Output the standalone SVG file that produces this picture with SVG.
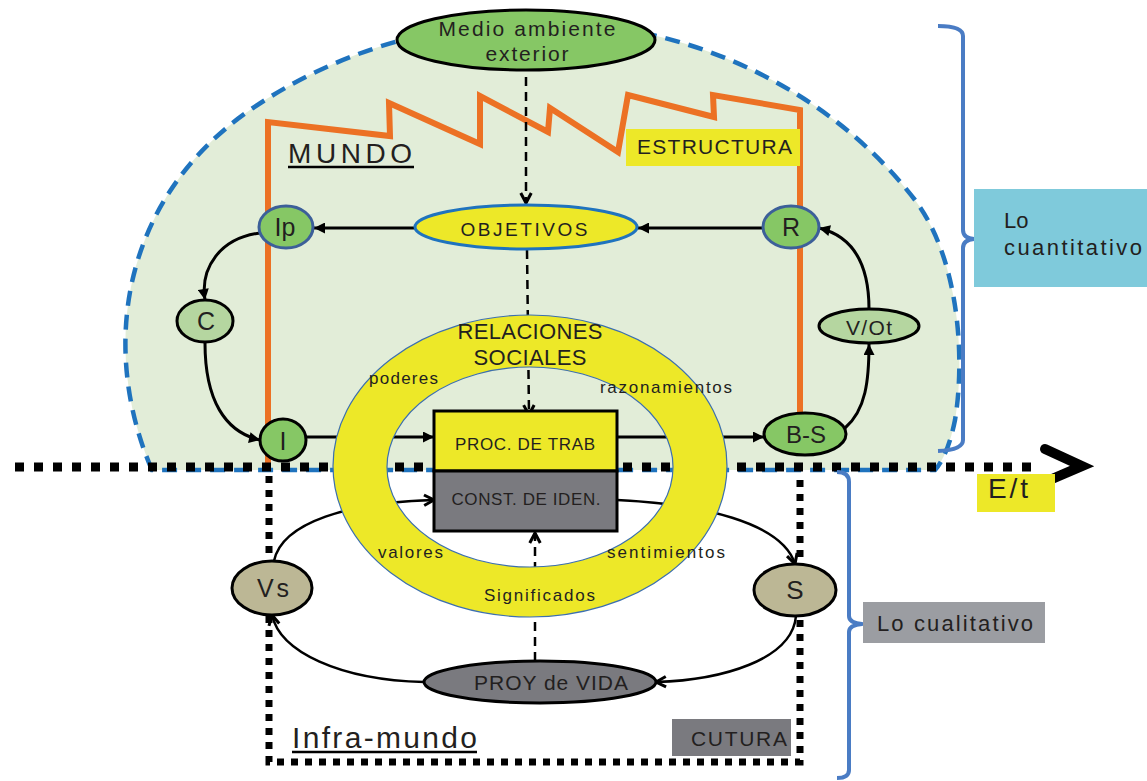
<svg xmlns="http://www.w3.org/2000/svg" width="1147" height="781" viewBox="0 0 1147 781">
<style>
text{font-family:"Liberation Sans",Arial,sans-serif;fill:#231f20}
.c{text-anchor:middle}
.ln{fill:none;stroke:#000;stroke-width:3}
.lt{fill:none;stroke:#000;stroke-width:2.5}
.dash{fill:none;stroke:#000;stroke-width:2.5;stroke-dasharray:9 6}
.g{fill:#86c765;stroke:#000;stroke-width:3}
.gb{fill:#86c765;stroke:#3c5f99;stroke-width:3}
.lg{fill:#b5d6a0;stroke:#000;stroke-width:3}
.kh{fill:#bcb795;stroke:#000;stroke-width:3}
.gr{fill:#7a7a7f;stroke:#000;stroke-width:3}
.br{fill:none;stroke:#4a7cc4;stroke-width:4;stroke-linejoin:round}
.dot{fill:none;stroke:#000}
</style>
<defs>
<marker id="fa" viewBox="0 0 10 10" refX="10" refY="5" markerWidth="13" markerHeight="11" markerUnits="userSpaceOnUse" orient="auto"><path d="M0,0 L10,5 L0,10 z" fill="#000"/></marker>
<marker id="oa" viewBox="0 0 12 12" refX="10.5" refY="6" markerWidth="14" markerHeight="14" markerUnits="userSpaceOnUse" orient="auto"><path d="M2,1.5 L10.5,6 L2,10.5" fill="none" stroke="#000" stroke-width="2.6"/></marker>
</defs>

<g id="dome">
<path d="M152,470 C100,350 120,200 250,110 C330,55 430,22 540,22 C690,22 830,90 915,200 C960,260 965,360 955,420 Q948,455 935,470 Z" fill="#e2edd8" stroke="#1f73be" stroke-width="4.5" stroke-dasharray="15 9"/>
</g>

<g id="estructura-line">
<path d="M268,468 L268,122 L390,136 L389,103 L480,144 L480,96 L548,132 L550,108 L618,152 L628,95 L714,117 L713,95 L800,110 L800,430" fill="none" stroke="#ec7124" stroke-width="6" stroke-linejoin="miter"/>
</g>

<g id="dotted-lines">
<path class="dot" d="M15,467 L1040,467" stroke-width="9" stroke-dasharray="9 10"/>
<path d="M1045,449 L1082,466 L1045,482" fill="none" stroke="#000" stroke-width="10" stroke-linecap="round" stroke-linejoin="miter"/>
<path class="dot" d="M269,476 L269,762 L800,762 L800,476" stroke-width="7" stroke-dasharray="7 7"/>
</g>

<g id="connectors">
<path class="dash" d="M526,62 L526,203" marker-end="url(#oa)"/>
<path class="dash" d="M527,250 L529,415" marker-end="url(#oa)"/>
<path class="dash" d="M535,661 L535,533" marker-end="url(#oa)"/>
<path class="ln" d="M415,228 L314,228" marker-end="url(#fa)"/>
<path class="ln" d="M763,228 L638,228" marker-end="url(#fa)"/>
<path class="ln" d="M260,233 C220,238 200,268 205,300" marker-end="url(#fa)"/>
<path class="ln" d="M205,343 C205,400 225,432 260,440" marker-end="url(#fa)"/>
<path class="ln" d="M306,437 L434,437" marker-end="url(#fa)"/>
<path class="ln" d="M617,437 L764,437" marker-end="url(#fa)"/>
<path class="ln" d="M845,428 C866,410 869,380 869,344" marker-end="url(#fa)"/>
<path class="ln" d="M869,309 C869,262 852,236 819,228" marker-end="url(#fa)"/>
<path class="lt" d="M274,561 C282,522 350,502 434,500" marker-end="url(#oa)"/>
<path class="lt" d="M617,500 C700,504 782,522 795,564" marker-end="url(#oa)"/>
<path class="lt" d="M796,616 C792,660 722,680 656,682" marker-end="url(#oa)"/>
<path class="lt" d="M424,682 C340,680 280,652 272,615" marker-end="url(#oa)"/>
</g>

<g id="relaciones-sociales">
<path d="M333,466 A197,151 0 1,0 727,466 A197,151 0 1,0 333,466 Z M387,467 A143,100 0 1,0 673,467 A143,100 0 1,0 387,467 Z" fill="#ede828" fill-rule="evenodd" stroke="#3c6fb0" stroke-width="1.2"/>
<text class="c" x="530" y="339" font-size="22" textLength="145" lengthAdjust="spacing">RELACIONES</text>
<text class="c" x="530" y="365" font-size="22" textLength="113" lengthAdjust="spacing">SOCIALES</text>
<text x="369" y="384" font-size="17" textLength="69" lengthAdjust="spacing">poderes</text>
<text x="600" y="393" font-size="17" textLength="132" lengthAdjust="spacing">razonamientos</text>
<text x="378" y="558" font-size="17" textLength="65" lengthAdjust="spacing">valores</text>
<text x="607" y="558" font-size="17" textLength="118" lengthAdjust="spacing">sentimientos</text>
<text x="484" y="601" font-size="17" textLength="111" lengthAdjust="spacing">Significados</text>
</g>

<g id="proc-trab">
<rect x="434" y="411" width="183" height="60" fill="#ede828" stroke="#000" stroke-width="3"/>
<text class="c" x="525" y="450" font-size="17" textLength="140" lengthAdjust="spacing">PROC. DE TRAB</text>
</g>
<g id="const-iden">
<rect x="434" y="471" width="183" height="60" class="gr"/>
<text class="c" x="526" y="505" font-size="17" textLength="149" lengthAdjust="spacing">CONST. DE IDEN.</text>
</g>

<g id="medio">
<ellipse cx="526" cy="40" rx="129" ry="30" class="g"/>
<text class="c" x="527" y="36" font-size="21" textLength="177" lengthAdjust="spacing">Medio ambiente</text>
<text class="c" x="527" y="61" font-size="21" textLength="83" lengthAdjust="spacing">exterior</text>
</g>

<g id="objetivos">
<ellipse cx="526" cy="227" rx="111" ry="22" fill="#ede828" stroke="#1f73be" stroke-width="3"/>
<text class="c" x="524" y="236" font-size="19" textLength="127" lengthAdjust="spacing">OBJETIVOS</text>
</g>

<g id="ip"><ellipse cx="286" cy="227" rx="27" ry="21" class="gb"/><text class="c" x="285" y="236" font-size="25">Ip</text></g>
<g id="r"><ellipse cx="791" cy="227" rx="28" ry="21" class="gb"/><text class="c" x="791" y="236" font-size="25">R</text></g>
<g id="c"><ellipse cx="205" cy="321" rx="28" ry="21" class="lg"/><text class="c" x="206" y="330" font-size="25">C</text></g>
<g id="i"><ellipse cx="283" cy="440" rx="23" ry="21" class="g"/><text class="c" x="283" y="450" font-size="25">I</text></g>
<g id="vot"><ellipse cx="869" cy="326" rx="50" ry="17" class="lg"/><text class="c" x="869" y="335" font-size="21" textLength="46" lengthAdjust="spacing">V/Ot</text></g>
<g id="bs"><ellipse cx="805" cy="434" rx="41" ry="21" class="g"/><text class="c" x="806" y="443" font-size="24">B-S</text></g>
<g id="vs"><ellipse cx="272" cy="588" rx="40" ry="27" class="kh"/><text class="c" x="273" y="597" font-size="25" textLength="32" lengthAdjust="spacing">Vs</text></g>
<g id="s"><ellipse cx="795" cy="590" rx="41" ry="26" class="kh"/><text class="c" x="795" y="599" font-size="26">S</text></g>
<g id="proy"><ellipse cx="540" cy="682" rx="116" ry="21" class="gr"/><text class="c" x="551" y="690" font-size="21" textLength="154" lengthAdjust="spacing">PROY de VIDA</text></g>

<g id="mundo">
<text x="288" y="163" font-size="28" textLength="124" lengthAdjust="spacing">MUNDO</text>
<line x1="288" y1="167" x2="414" y2="167" stroke="#000" stroke-width="2.5"/>
</g>
<g id="estructura">
<rect x="626" y="129" width="174" height="37" fill="#ede828"/>
<text x="637" y="154" font-size="21" textLength="155" lengthAdjust="spacing">ESTRUCTURA</text>
</g>
<g id="inframundo">
<text x="292" y="748" font-size="30" textLength="185" lengthAdjust="spacing">Infra-mundo</text>
<line x1="292" y1="752" x2="477" y2="752" stroke="#000" stroke-width="2.5"/>
</g>
<g id="cutura">
<rect x="672" y="719" width="119" height="37" fill="#7a7a7f"/>
<text x="691" y="746" font-size="21" textLength="96" lengthAdjust="spacing">CUTURA</text>
</g>

<g id="brackets">
<path class="br" d="M938,26 Q963,26 963,36 L963,230 Q963,238 974,239 Q963,240 963,248 L963,440 Q963,450 938,451"/>
<path class="br" d="M837,472 Q849,472 849,482 L849,616 Q849,623 862,624 Q849,625 849,632 L849,770 Q849,778 837,778"/>
</g>
<g id="lo-cuantitativo">
<rect x="974" y="189" width="173" height="98" fill="#7fcadb"/>
<text x="1004" y="228" font-size="22">Lo</text>
<text x="1004" y="255" font-size="22" textLength="138" lengthAdjust="spacing">cuantitativo</text>
</g>
<g id="lo-cualitativo">
<rect x="863" y="602" width="182" height="41" fill="#9b9da2"/>
<text x="877" y="631" font-size="22" textLength="156" lengthAdjust="spacing">Lo cualitativo</text>
</g>
<g id="et">
<rect x="977" y="474" width="78" height="38" fill="#ede828"/>
<text x="988" y="498" font-size="28" textLength="40" lengthAdjust="spacing">E/t</text>
</g>
</svg>
